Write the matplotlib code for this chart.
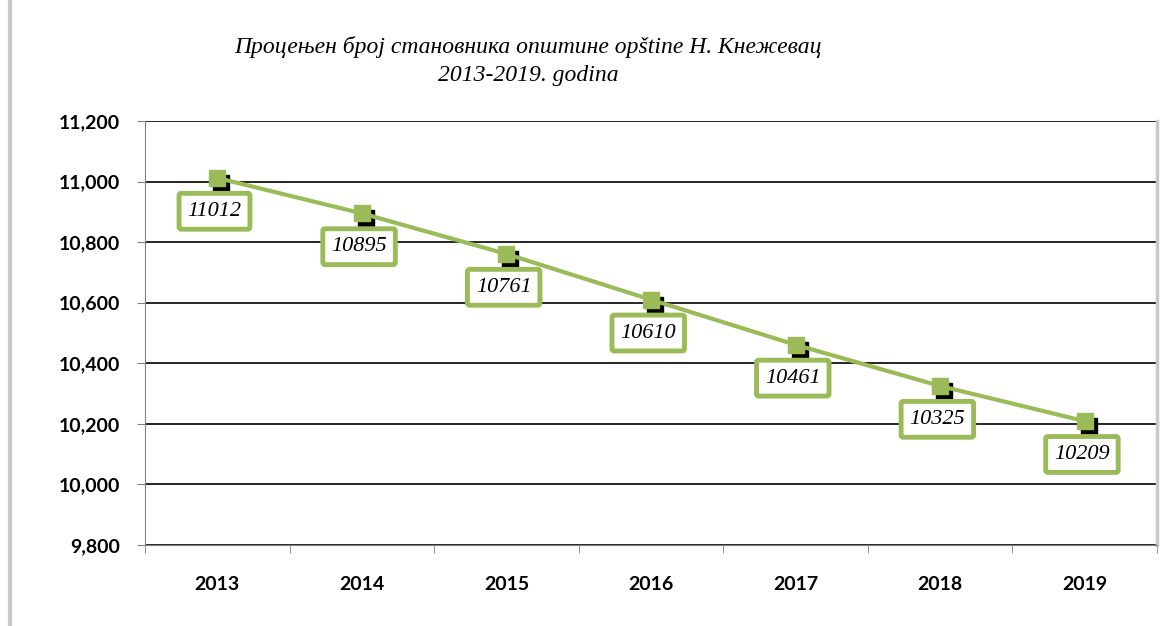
import matplotlib
matplotlib.use("Agg")
import matplotlib.pyplot as plt
from matplotlib.ticker import FuncFormatter, FixedLocator
import matplotlib.transforms as mtransforms
from matplotlib.lines import Line2D

years = ["2013", "2014", "2015", "2016", "2017", "2018", "2019"]
population = [11012, 10895, 10761, 10610, 10461, 10325, 10209]
title_lines = ["Процењен број становника општине opštine Н. Кнежевац", "2013-2019. godina"]
yticks = [9800, 10000, 10200, 10400, 10600, 10800, 11000, 11200]

green = "#9BBB59"

fig = plt.figure(figsize=(11.61, 6.26), dpi=100)
ax = fig.add_axes([145/1161, 1-545/626, (1157-145)/1161, (545-121)/626])

x = list(range(len(years)))
# shadow markers
shadow = mtransforms.offset_copy(ax.transData, fig=fig, x=4, y=-5, units="dots")
ax.plot(x, population, linestyle="none", marker="s", markersize=11,
        color="black", transform=shadow, zorder=3)
ax.plot(x, population, color=green, linewidth=3, marker="s", markersize=12,
        markerfacecolor=green, markeredgecolor=green, zorder=4)

for xi, v in zip(x, population):
    ax.annotate(str(v), (xi, v), xytext=(-2, -24), textcoords="offset points",
                ha="center", va="center", fontsize=16, fontstyle="italic",
                family="Liberation Serif", zorder=5,
                bbox=dict(boxstyle="round,pad=0.38,rounding_size=0.1", fc="white",
                          ec=green, lw=3.5))

ax.set_xlim(-0.5, len(years) - 0.5)
ax.set_ylim(9800, 11200)
ax.yaxis.set_major_locator(FixedLocator(yticks))
ax.yaxis.set_major_formatter(FuncFormatter(lambda v, p: f"{int(v):,}"))
ax.set_xticks(x)
ax.set_xticklabels(years)
ax.set_xticks([i - 0.5 for i in range(len(years) + 1)], minor=True)
ax.tick_params(axis="x", which="major", length=0, pad=22)
ax.tick_params(axis="x", which="minor", length=6, color="#808080", direction="out")
ax.tick_params(axis="y", length=6, color="#808080", pad=12)
for lbl in ax.get_xticklabels() + ax.get_yticklabels():
    lbl.set_fontweight("bold")
    lbl.set_fontsize(14)
    lbl.set_family("Lato")

ax.grid(axis="y", color="black", linewidth=1.2)
ax.set_axisbelow(True)
for side in ["top"]:
    ax.spines[side].set_visible(False)
ax.spines["left"].set_color("#808080")
ax.spines["bottom"].set_color("#808080")
ax.spines["right"].set_color("#c8c8c8")
ax.spines["right"].set_linewidth(2.5)

fig.text(528/1161, 1-47/626, title_lines[0], ha="center", va="center",
         fontsize=17, fontstyle="italic", family="Liberation Serif")
fig.text(528/1161, 1-76/626, title_lines[1], ha="center", va="center",
         fontsize=17, fontstyle="italic", family="Liberation Serif")

fig.add_artist(Line2D([10/1161, 10/1161], [0, 1], transform=fig.transFigure,
                      color="#c8c8c8", linewidth=3))

fig.savefig("out.png", dpi=100)
